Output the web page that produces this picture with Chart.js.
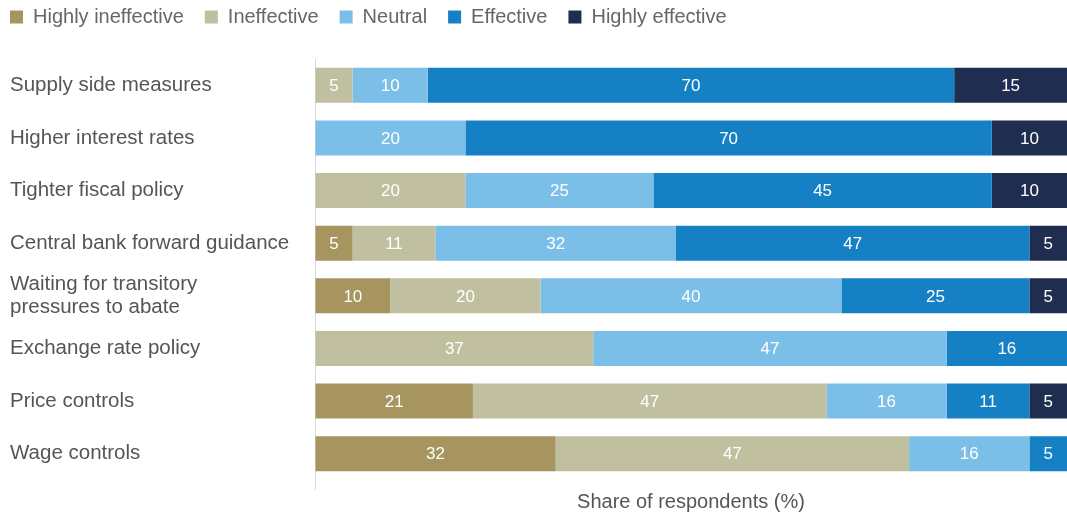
<!DOCTYPE html>
<html>
<head>
<meta charset="utf-8">
<script src="https://cdn.jsdelivr.net/npm/chart.js@4"></script>
<style>
  html, body { margin: 0; padding: 0; background: #fff; }
  #wrap { width: 1067px; height: 515px; position: relative; }
</style>
</head>
<body>
<div id="wrap"><canvas id="c"></canvas></div>
<script>
'use strict';

const categories = [
  'Supply side measures',
  'Higher interest rates',
  'Tighter fiscal policy',
  'Central bank forward guidance',
  ['Waiting for transitory', 'pressures to abate'],
  'Exchange rate policy',
  'Price controls',
  'Wage controls',
];
const seriesNames = ['Highly ineffective', 'Ineffective', 'Neutral', 'Effective', 'Highly effective'];
const highlyIneffective = [0, 0, 0, 5, 10, 0, 21, 32];
const ineffective = [5, 0, 20, 11, 20, 37, 47, 47];
const neutral = [10, 20, 25, 32, 40, 47, 16, 16];
const effective = [70, 70, 45, 47, 25, 16, 11, 5];
const highlyEffective = [15, 10, 10, 5, 5, 0, 5, 0];
const axisTitle = 'Share of respondents (%)';

const COLORS = ['#a6955f', '#c0bfa0', '#7bbfe8', '#1580c4', '#1f2d50'];
const FONT = '"Liberation Sans", Arial, sans-serif';

const values = [highlyIneffective, ineffective, neutral, effective, highlyEffective];
const datasets = seriesNames.map((name, i) => ({
  label: name,
  data: values[i],
  backgroundColor: COLORS[i],
  borderWidth: 0,
  barPercentage: 0.666,
  categoryPercentage: 1,
}));

// white value labels centred in each segment
const segmentLabels = {
  id: 'segmentLabels',
  afterDatasetsDraw(chart) {
    const ctx = chart.ctx;
    ctx.save();
    ctx.fillStyle = '#fff';
    ctx.font = '17px ' + FONT;
    ctx.textAlign = 'center';
    ctx.textBaseline = 'middle';
    chart.data.datasets.forEach((ds, di) => {
      chart.getDatasetMeta(di).data.forEach((bar, i) => {
        const v = ds.data[i];
        if (!v) return;
        const cx = (bar.x + bar.base) / 2;
        ctx.fillText(String(v), cx, bar.y + 1);
      });
    });
    ctx.restore();
  },
};

// nudge the legend up/left so it sits at the page corner
const legendShift = {
  id: 'legendShift',
  afterUpdate(chart) {
    const lg = chart.legend;
    if (!lg) return;
    lg.left = -11;
    lg.top = -14;
    lg.adjustHitBoxes();
  },
};

new Chart(document.getElementById('c'), {
  type: 'bar',
  data: { labels: categories, datasets },
  plugins: [segmentLabels, legendShift],
  options: {
    indexAxis: 'y',
    responsive: true,
    maintainAspectRatio: false,
    animation: false,
    layout: { padding: { left: 10, right: 0, top: 8, bottom: 1 } },
    plugins: {
      tooltip: { enabled: false },
      legend: {
        position: 'top',
        align: 'start',
        labels: {
          boxWidth: 13,
          boxHeight: 13,
          padding: 21,
          color: '#666',
          font: { family: FONT, size: 20 },
        },
      },
    },
    scales: {
      x: {
        stacked: true,
        min: 0,
        max: 100,
        afterBuildTicks: (s) => { s.ticks = [{ value: 0 }]; },
        grid: { drawOnChartArea: false, drawTicks: true, tickLength: 10, color: '#d9d9d9' },
        border: { display: false },
        ticks: { display: false },
        title: {
          display: true,
          text: axisTitle,
          color: '#555',
          font: { family: FONT, size: 20 },
          padding: { top: 0, bottom: 0 },
        },
      },
      y: {
        stacked: true,
        afterFit: (s) => { s.width = 305; },
        grid: { display: false },
        border: { display: true, color: '#d9d9d9', width: 1 },
        ticks: {
          crossAlign: 'far',
          color: '#555',
          font: { family: FONT, size: 20.5, lineHeight: 1.1 },
        },
      },
    },
  },
});
</script>
</body>
</html>
